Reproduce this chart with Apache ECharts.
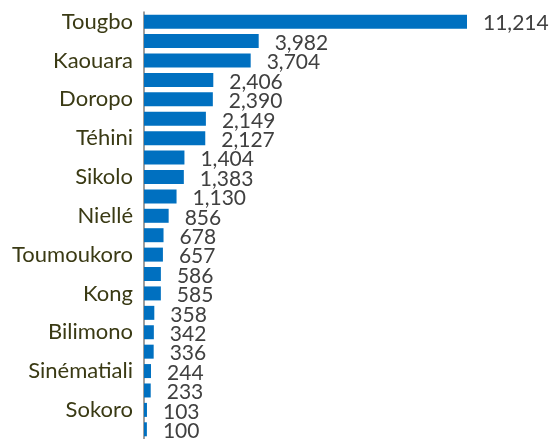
<!DOCTYPE html>
<html>
<head>
<meta charset="utf-8">
<script src="https://cdn.jsdelivr.net/npm/echarts@6/dist/echarts.min.js"></script>
<style>
  html, body { margin: 0; padding: 0; background: #fff; }
  #chart { width: 554px; height: 439px; }
</style>
</head>
<body>
<div id="chart"></div>
<script>
// only every other category name is printed in the picture
var villages = ['Tougbo', 'v2', 'Kaouara', 'v4', 'Doropo', 'v6', 'Téhini', 'v8',
  'Sikolo', 'v10', 'Niellé', 'v12', 'Toumoukoro', 'v14', 'Kong', 'v16',
  'Bilimono', 'v18', 'Sinématiali', 'v20', 'Sokoro', 'v22'];
var counts = [11214, 3982, 3704, 2406, 2390, 2149, 2127, 1404, 1383, 1130, 856,
  678, 657, 586, 585, 358, 342, 336, 244, 233, 103, 100];

var chart = echarts.init(document.getElementById('chart'));
var option = {
  animation: false,
  grid: {
    left: 144,
    top: 12,
    width: 323,
    height: 429
  },
  xAxis: {
    type: 'value',
    min: 0,
    max: 11214,
    show: false
  },
  yAxis: {
    type: 'category',
    data: villages,
    inverse: true,
    axisLine: { show: true, lineStyle: { color: '#7f7f7f', width: 1.5 } },
    axisTick: { show: false },
    axisLabel: {
      interval: 1,
      margin: 11,
      fontFamily: 'Lato',
      fontSize: 22,
      color: '#3a3a14'
    }
  },
  series: [
    {
      type: 'bar',
      data: counts,
      barWidth: 14,
      itemStyle: { color: '#0070c0' },
      label: {
        show: true,
        position: 'right',
        distance: 16,
        offset: [0, 2],
        fontFamily: 'Lato',
        fontSize: 21,
        color: '#404040',
        formatter: function (p) { return p.value.toLocaleString('en-US'); }
      }
    }
  ]
};
chart.setOption(option);
</script>
</body>
</html>
